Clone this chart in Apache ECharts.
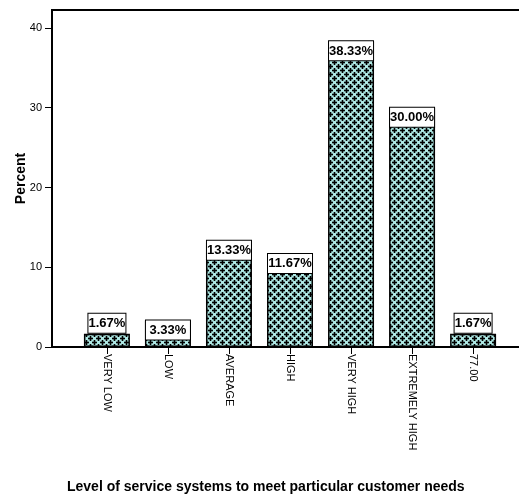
<!DOCTYPE html>
<html>
<head>
<meta charset="utf-8">
<script src="https://cdn.jsdelivr.net/npm/echarts@6/dist/echarts.min.js"></script>
<style>
html,body{margin:0;padding:0;background:#fff;}
#chart{width:519px;height:497px;}
</style>
</head>
<body>
<div id="chart"></div>
<script>
const categories = ["VERY LOW", "LOW", "AVERAGE", "HIGH", "VERY HIGH", "EXTREMELY HIGH", "77.00"];
const percents = [1.67, 3.33, 13.33, 11.67, 38.33, 30.00, 1.67];
const yTicks = [0, 10, 20, 30, 40];
const xTitle = "Level of service systems to meet particular customer needs";
const yTitle = "Percent";

// pattern tile: black pluses on cyan
function makePattern() {
  const c = document.createElement('canvas');
  c.width = 8; c.height = 8;
  const g = c.getContext('2d');
  g.fillStyle = '#aee8e4';
  g.fillRect(0, 0, 8, 8);
  g.fillStyle = '#000';
  function plus(x, y) {
    g.fillRect(x - 2.5, y - 0.8, 5, 1.6);
    g.fillRect(x - 0.8, y - 2.5, 1.6, 5);
  }
  const pts = [[2.5, 2.5], [6.5, 6.5]];
  pts.forEach(([x, y]) => {
    for (let dx = -8; dx <= 8; dx += 8)
      for (let dy = -8; dy <= 8; dy += 8) plus(x + dx, y + dy);
  });
  return c;
}
const pat = makePattern();

const data = percents.map((v, i) => ({
  value: [i, v],
  label: v >= 3 ? {
    position: 'insideTop', distance: 0, width: 44
  } : {
    position: 'top', distance: 1, width: 37
  }
}));

const chart = echarts.init(document.getElementById('chart'), null, {renderer: 'canvas'});
chart.setOption({
  animation: false,
  backgroundColor: '#fff',
  title: {
    text: xTitle,
    left: 62, top: 475,
    textStyle: {fontFamily: '"Liberation Sans", Arial, sans-serif', fontWeight: 'bold', fontSize: 14, color: '#000'}
  },
  grid: {
    left: 52, top: 10, width: 487, height: 337,
    outerBoundsMode: 'none',
    containLabel: false,
    show: true, borderColor: '#000', borderWidth: 2, backgroundColor: 'transparent'
  },
  xAxis: {
    type: 'value',
    min: -0.9, max: 7.08,
    splitLine: {show: false},
    axisLine: {show: true, onZero: false, lineStyle: {color: '#000', width: 2}},
    axisTick: {show: true, customValues: [0,1,2,3,4,5,6], length: 7, lineStyle: {color: '#000', width: 1}},
    axisLabel: {
      customValues: [0,1,2,3,4,5,6],
      rotate: -90, margin: 7,
      fontFamily: '"Liberation Sans", Arial, sans-serif', fontSize: 11, color: '#000',
      formatter: v => categories[Math.round(v)] || ''
    }
  },
  yAxis: {
    type: 'value',
    min: 0, max: 42.25,
    name: yTitle,
    nameLocation: 'middle',
    nameGap: 24,
    nameMoveOverlap: false,
    nameTextStyle: {fontFamily: '"Liberation Sans", Arial, sans-serif', fontWeight: 'bold', fontSize: 14, color: '#000'},
    splitLine: {show: false},
    axisLine: {show: true, onZero: false, lineStyle: {color: '#000', width: 2}},
    axisTick: {show: true, customValues: yTicks, length: 7, lineStyle: {color: '#000'}},
    axisLabel: {
      customValues: yTicks, margin: 10,
      fontFamily: '"Liberation Sans", Arial, sans-serif', fontSize: 11, color: '#000'
    }
  },
  series: [{
    type: 'bar',
    barWidth: 46,
    data: data,
    itemStyle: {
      color: {image: pat, repeat: 'repeat'},
      borderColor: '#000',
      borderWidth: 1.5
    },
    label: {
      show: true,
      formatter: p => p.value[1].toFixed(2) + '%',
      fontFamily: '"Liberation Sans", Arial, sans-serif',
      fontWeight: 'bold',
      fontSize: 13,
      color: '#000',
      backgroundColor: '#fff',
      borderColor: '#000',
      borderWidth: 1,
      align: 'center',
      lineHeight: 18,
      padding: [1, 0, 0, 0]
    }
  }]
});
</script>
</body>
</html>
